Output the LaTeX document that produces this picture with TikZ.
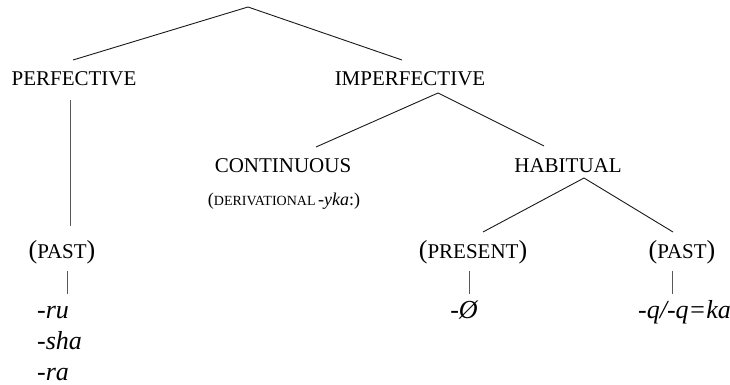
\documentclass[tikz,border=0pt]{standalone}
\usepackage{fontspec}
\setmainfont{Liberation Serif}
\newcommand\bigparen[1]{{\fontsize{26}{26}\selectfont(}{\fontsize{21}{21}\selectfont #1}{\fontsize{26}{26}\selectfont)}}
\begin{document}
\begin{tikzpicture}[x=1pt,y=-1pt,
  lab/.style={inner sep=0pt, anchor=base, font=\fontsize{21}{21}\selectfont},
  plain/.style={inner sep=0pt, anchor=base},
  morph/.style={inner sep=0pt, anchor=base, font=\fontsize{26}{26}\selectfont\itshape},
  branch/.style={line width=0.9pt, black!90},
  stem/.style={line width=0.6pt, black!65}]
\useasboundingbox (0,0) rectangle (730,385);

% labels
\node[lab] (perf) at (74,86) {PERFECTIVE};
\node[lab] (imperf) at (410,86) {IMPERFECTIVE};
\node[lab] (cont) at (283,172) {CONTINUOUS};
\node[plain] (deriv) at (284,205) {{\fontsize{18}{18}\selectfont(}{\fontsize{14}{14}\selectfont DERIVATIONAL} {\fontsize{18}{18}\selectfont\itshape -yka}{\fontsize{18}{18}\selectfont:)}};
\node[lab] (hab) at (568,172) {HABITUAL};
\node[plain] (pastL) at (62,258) {\bigparen{PAST}};
\node[plain] (pres) at (473,258) {\bigparen{PRESENT}};
\node[plain] (pastR) at (682,258) {\bigparen{PAST}};
\node[morph, anchor=base west] (ru) at (37,318) {-ru};
\node[morph, anchor=base west] (sha) at (37,349) {-sha};
\node[morph, anchor=base west] (ra) at (37,380) {-ra};
\node[morph] (zero) at (464,318) {-Ø};
\node[morph, anchor=base east] (q) at (731,318) {-q/-q=ka};

% connector end points
\coordinate (root) at (248,7);
\coordinate (perfT) at (73,60);
\coordinate (imperfT) at (402,60);
\coordinate (perfB) at (70,100);
\coordinate (pastLT) at (70,226);
\coordinate (imperfB) at (438,93);
\coordinate (contT) at (316,147);
\coordinate (habT) at (544,146);
\coordinate (habB) at (584,178);
\coordinate (presT) at (483,232);
\coordinate (pastRT) at (673,232);
\coordinate (pastLB) at (67,271);
\coordinate (ruT) at (67,294);
\coordinate (presB) at (469,271);
\coordinate (zeroT) at (469,294);
\coordinate (pastRB) at (672,271);
\coordinate (qT) at (672,294);

% connectors
\draw[branch] (perfT) -- (root) -- (imperfT);
\draw[stem] (perfB) -- (pastLT);
\draw[branch] (contT) -- (imperfB) -- (habT);
\draw[branch] (presT) -- (habB) -- (pastRT);
\draw[stem] (pastLB) -- (ruT);
\draw[stem] (presB) -- (zeroT);
\draw[stem] (pastRB) -- (qT);
\end{tikzpicture}
\end{document}
